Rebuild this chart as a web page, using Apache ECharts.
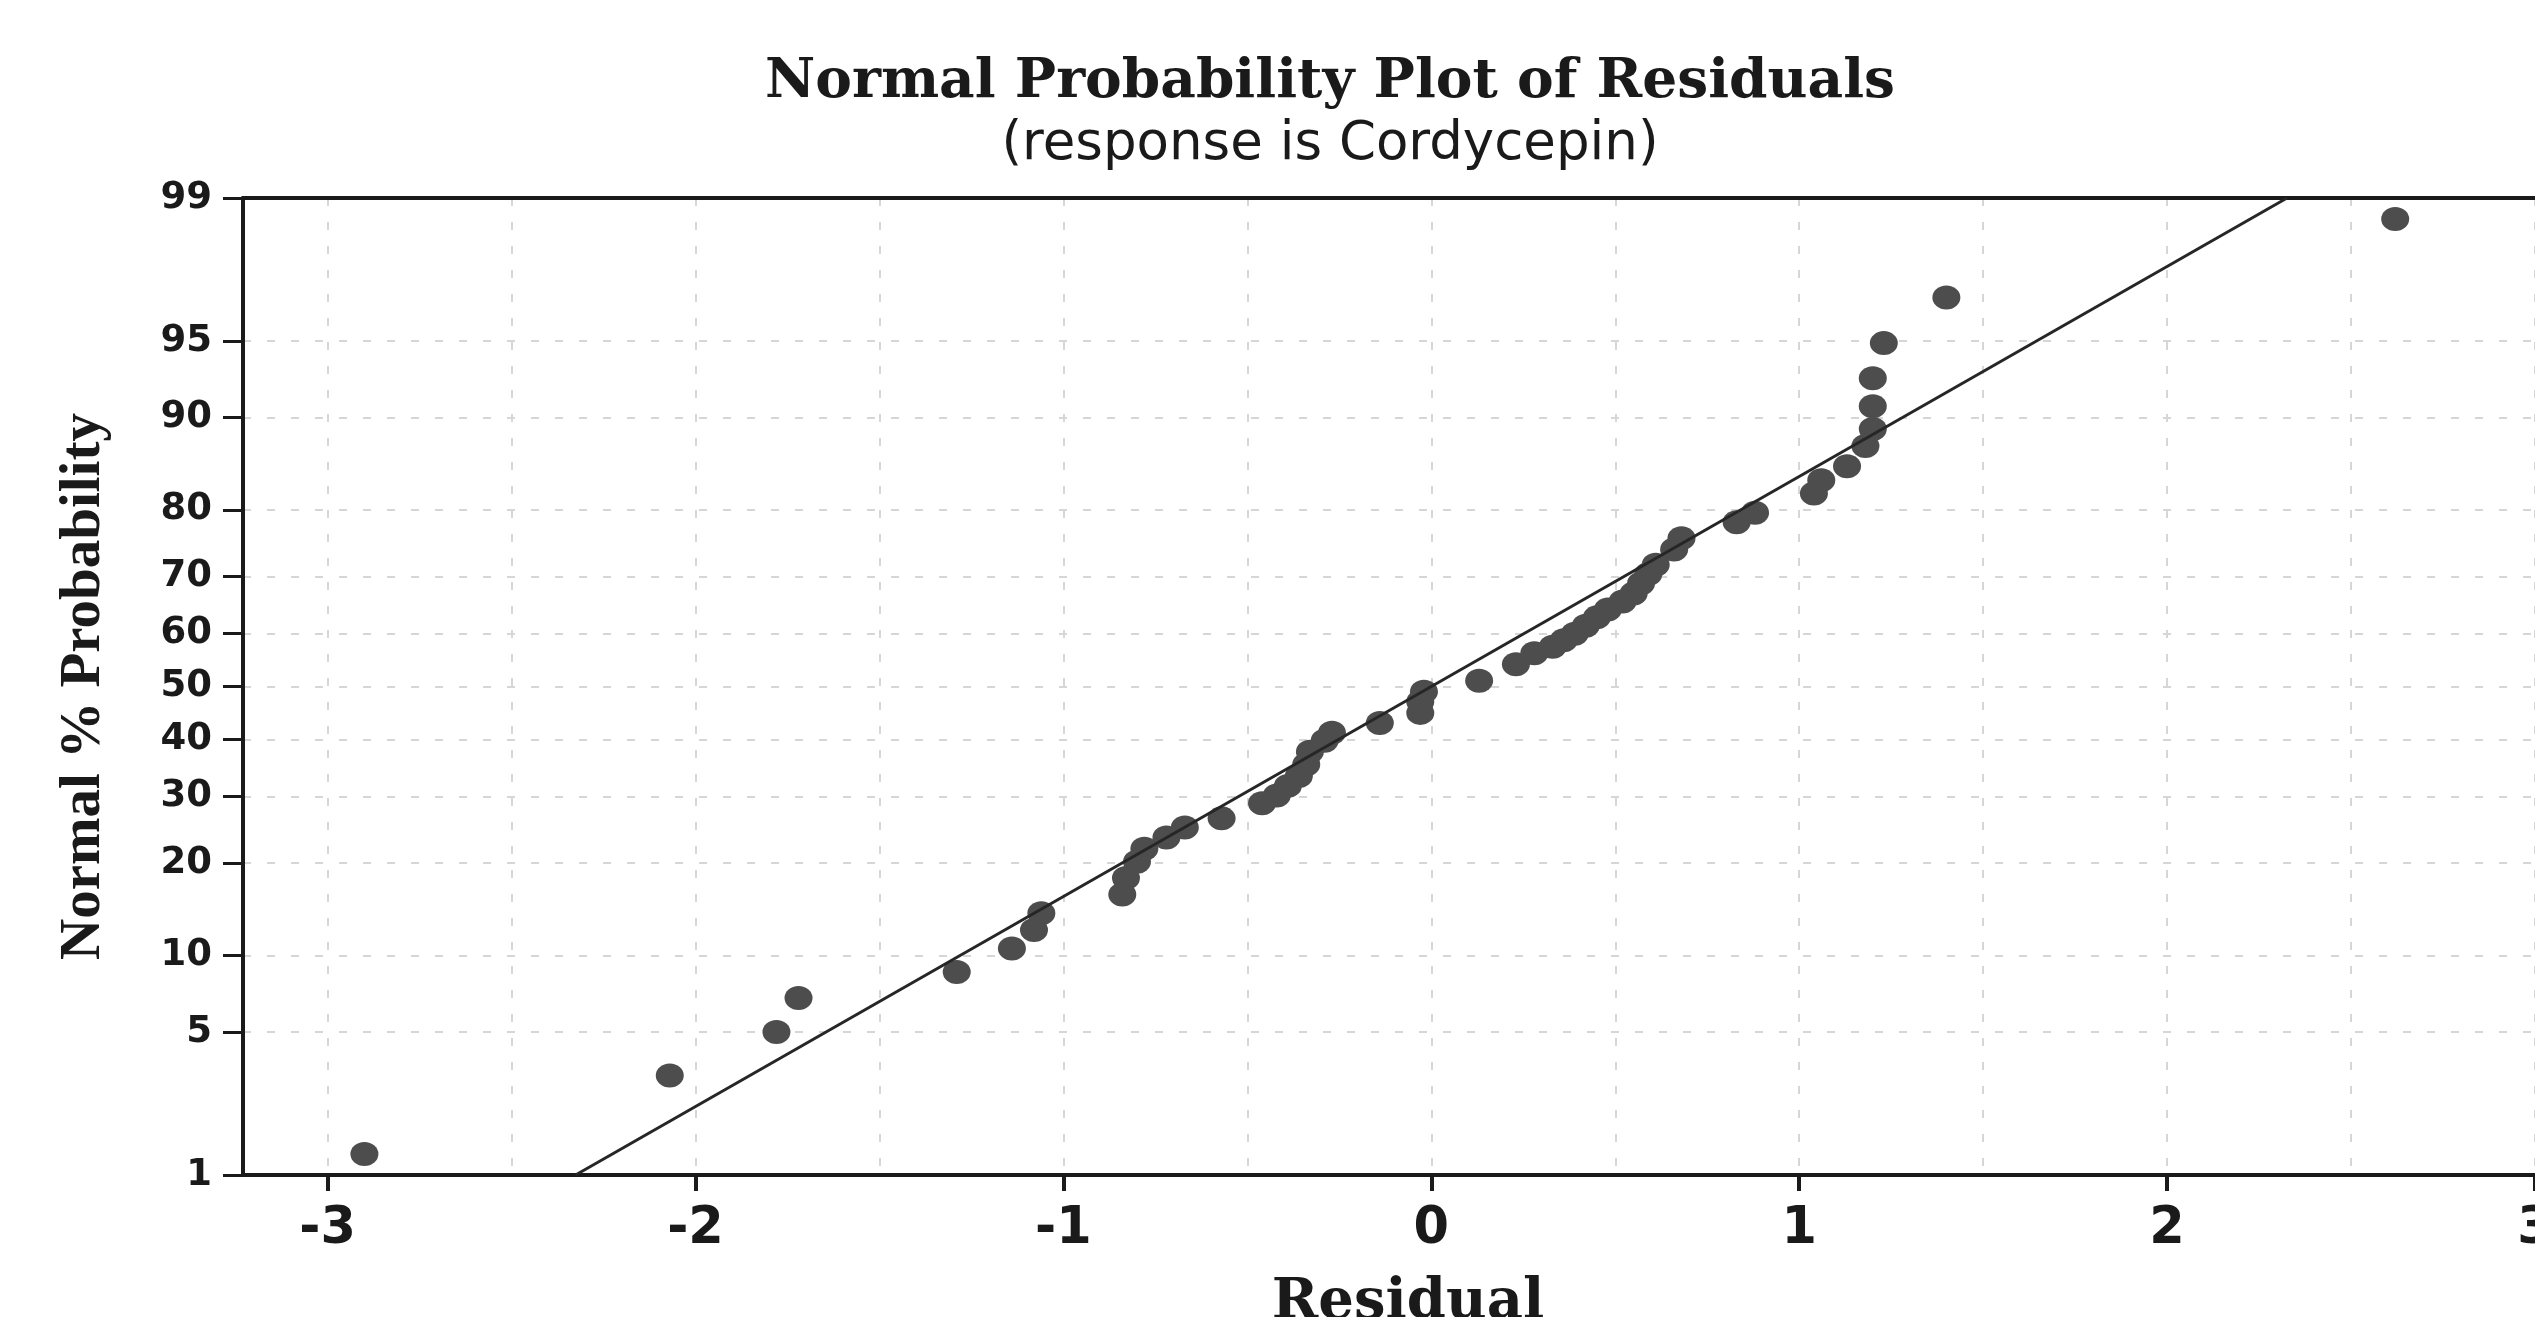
<!DOCTYPE html>
<html>
	<head>
		<meta charset="utf-8">
		<title>Normal Probability Plot of Residuals</title>
		<script src="https://cdn.jsdelivr.net/npm/echarts@6/dist/echarts.min.js"></script>
		<style>
			body { margin: 0; background: #fff; }
		</style>
	</head>
	<body>
		<div id="my" style="width: 2535px;height:1317px;"></div>

		<script>
			var residuals = [
				-2.90, -2.07, -1.78, -1.72, -1.29, -1.14, -1.08, -1.06, -0.84, -0.83,
				-0.80, -0.78, -0.72, -0.67, -0.57, -0.46, -0.42, -0.39, -0.36, -0.34,
				-0.33, -0.29, -0.27, -0.14, -0.03, -0.03, -0.02, 0.13, 0.23, 0.28,
				0.33, 0.36, 0.39, 0.42, 0.45, 0.48, 0.52, 0.55, 0.57, 0.59,
				0.61, 0.66, 0.68, 0.83, 0.88, 1.04, 1.06, 1.13, 1.18, 1.20,
				1.20, 1.20, 1.23, 1.40, 2.62
			];
			var percents = [
				1.3, 3.2, 5.0, 6.9, 8.7, 10.6, 12.3, 14.0, 16.1, 18.1,
				20.2, 22.0, 23.6, 25.1, 26.5, 28.9, 30.2, 31.8, 33.5, 35.5,
				37.8, 39.8, 41.3, 43.1, 45.0, 47.1, 49.0, 51.1, 54.2, 56.3,
				57.5, 58.7, 59.9, 61.4, 62.9, 64.3, 65.7, 67.1, 68.8, 70.4,
				71.9, 74.3, 76.0, 78.3, 79.6, 82.1, 83.7, 85.3, 87.4, 89.0,
				90.9, 92.9, 94.9, 96.8, 98.7
			];
			// fitted line ends (residual, %)
			var fitX = [-2.326, 2.326];
			var fitP = [1, 99];

			var probTicks = [1, 5, 10, 20, 30, 40, 50, 60, 70, 80, 90, 95, 99];
			var xTicks = [-3, -2, -1, 0, 1, 2, 3];
			var xGrid = [-3, -2.5, -2, -1.5, -1, -0.5, 0, 0.5, 1, 1.5, 2, 2.5, 3];

			// inverse normal cdf (Acklam)
			function probit(p) {
				var a = [-3.969683028665376e+01, 2.209460984245205e+02, -2.759285104469687e+02, 1.383577518672690e+02, -3.066479806614716e+01, 2.506628277459239e+00];
				var b = [-5.447609879822406e+01, 1.615858368580409e+02, -1.556989798598866e+02, 6.680131188771972e+01, -1.328068155288572e+01];
				var c = [-7.784894002430293e-03, -3.223964580411365e-01, -2.400758277161838e+00, -2.549732539343734e+00, 4.374664141464968e+00, 2.938163982698783e+00];
				var d = [7.784695709041462e-03, 3.224671290700398e-01, 2.445134137142996e+00, 3.754408661907416e+00];
				var pl = 0.02425, q, r;
				if (p < pl) {
					q = Math.sqrt(-2 * Math.log(p));
					return (((((c[0]*q+c[1])*q+c[2])*q+c[3])*q+c[4])*q+c[5]) / ((((d[0]*q+d[1])*q+d[2])*q+d[3])*q+1);
				}
				if (p > 1 - pl) {
					q = Math.sqrt(-2 * Math.log(1 - p));
					return -(((((c[0]*q+c[1])*q+c[2])*q+c[3])*q+c[4])*q+c[5]) / ((((d[0]*q+d[1])*q+d[2])*q+d[3])*q+1);
				}
				q = p - 0.5; r = q * q;
				return (((((a[0]*r+a[1])*r+a[2])*r+a[3])*r+a[4])*r+a[5])*q / (((((b[0]*r+b[1])*r+b[2])*r+b[3])*r+b[4])*r+1);
			}
			function z(pct) { return probit(pct / 100); }

			var yTickVals = probTicks.map(z);
			var pointData = residuals.map(function (r, i) { return [r, z(percents[i])]; });
			var lineData = fitX.map(function (x, i) { return [x, z(fitP[i])]; });

			var myChart = echarts.init(document.getElementById('my'));

			var gridLine = { show: true, lineStyle: { color: '#d6d6d6', width: 2, type: [8, 16] } };

			var option = {
				backgroundColor: '#fff',
				title: [
					{
						text: 'Normal Probability Plot of Residuals',
						left: 1325, top: 50, textAlign: 'center',
						textStyle: { fontFamily: 'DejaVu Serif', fontWeight: 'bold', fontSize: 55, color: '#1a1a1a' }
					},
					{
						text: '(response is Cordycepin)',
						left: 1325, top: 114, textAlign: 'center',
						textStyle: { fontFamily: 'DejaVu Sans', fontWeight: 'normal', fontSize: 53, color: '#1a1a1a' }
					}
				],
				grid: { left: 243, right: 0, top: 198, bottom: 142, outerBoundsMode: 'none' },
				xAxis: [
					{
						type: 'value', min: -3.23, max: 3.0,
						name: 'Residual', nameLocation: 'middle', nameGap: 100,
						nameTextStyle: { fontFamily: 'DejaVu Serif', fontWeight: 'bold', fontSize: 56, color: '#1a1a1a', padding: [0, 0, 0, 38] },
						axisLine: { show: true, onZero: false, lineStyle: { color: '#1a1a1a', width: 4 } },
						axisTick: { show: true, length: 16, customValues: xTicks, lineStyle: { color: '#1a1a1a', width: 4 } },
						axisLabel: { customValues: xTicks, margin: 29, fontFamily: 'DejaVu Sans', fontWeight: 'bold', fontSize: 51, color: '#1a1a1a' },
						splitLine: { show: false }
					},
					{
						type: 'value', min: -3.23, max: 3.0, position: 'top',
						axisLine: { show: true, onZero: false, lineStyle: { color: '#1a1a1a', width: 4 } },
						axisTick: { show: false, customValues: xGrid },
						axisLabel: { show: false },
						splitLine: gridLine
					}
				],
				yAxis: {
					type: 'value', min: z(1), max: z(99),
					name: 'Normal % Probability', nameLocation: 'middle', nameGap: 130, nameRotate: 90,
					nameTextStyle: { fontFamily: 'Liberation Serif', fontWeight: 'bold', fontSize: 57, color: '#1a1a1a' },
					axisLine: { show: true, onZero: false, lineStyle: { color: '#1a1a1a', width: 4 } },
					axisTick: { show: true, length: 20, customValues: yTickVals, lineStyle: { color: '#1a1a1a', width: 3 } },
					axisLabel: {
						customValues: yTickVals, margin: 31,
						fontFamily: 'DejaVu Sans', fontWeight: 'bold', fontSize: 37, color: '#1a1a1a',
						formatter: function (v) {
							var best = 0;
							for (var i = 1; i < yTickVals.length; i++) {
								if (Math.abs(yTickVals[i] - v) < Math.abs(yTickVals[best] - v)) best = i;
							}
							return String(probTicks[best]);
						}
					},
					splitLine: gridLine
				},
				series: [
					{
						type: 'line',
						data: lineData,
						symbol: 'none',
						lineStyle: { color: '#262626', width: 3 },
						silent: true
					},
					{
						type: 'scatter',
						data: pointData,
						symbolSize: [28, 24],
						itemStyle: { color: '#4d4d4d', opacity: 1 }
					}
				]
			};

			myChart.setOption(option);
		</script>
	</body>
</html>
